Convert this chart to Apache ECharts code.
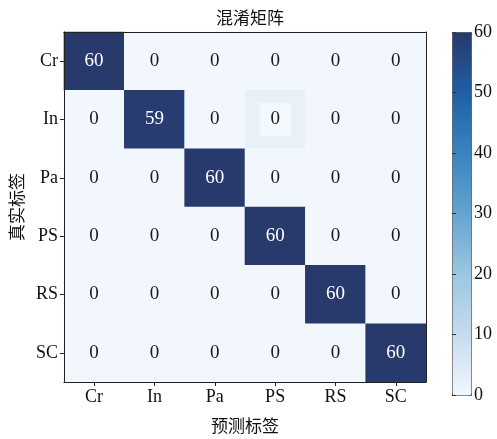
<!DOCTYPE html>
<html>
<head>
<meta charset="utf-8">
<script src="https://cdn.jsdelivr.net/npm/echarts@6/dist/echarts.min.js"></script>
<style>
  html, body { margin: 0; padding: 0; background: #fff; }
  #chart { width: 497px; height: 439px; }
</style>
</head>
<body>
<div id="chart"></div>
<script>
// Class labels (predicted along x, true along y)
const classes = ['Cr', 'In', 'Pa', 'PS', 'RS', 'SC'];

// Confusion matrix rows: true label; columns: predicted label
const rowCr = [60, 0, 0, 0, 0, 0];
const rowIn = [0, 59, 0, 0, 0, 0];
const rowPa = [0, 0, 60, 0, 0, 0];
const rowPS = [0, 0, 0, 60, 0, 0];
const rowRS = [0, 0, 0, 0, 60, 0];
const rowSC = [0, 0, 0, 0, 0, 60];
const matrix = [rowCr, rowIn, rowPa, rowPS, rowRS, rowSC];

// Colour bar ticks
const colorbarMin = 0;
const colorbarMax = 60;
const colorbarStep = 10;

// Cell with a faint shaded background (row In, column PS)
const shadedCell = [3, 1];

const LATIN = "'Liberation Serif', 'Times New Roman', serif";
const CJK = "'Noto Sans CJK SC', sans-serif";

const cells = [];
matrix.forEach((row, i) => {
  row.forEach((v, j) => {
    const item = {
      value: [j, i, v],
      label: { color: v > colorbarMax / 2 ? '#ffffff' : '#1a1a1a' }
    };
    if (j === shadedCell[0] && i === shadedCell[1]) {
      item.itemStyle = { color: '#e8f0f8' };
      item.label.backgroundColor = '#f3f8fd';
      item.label.padding = [7, 11, 7, 11];
    }
    cells.push(item);
  });
});

const chart = echarts.init(document.getElementById('chart'), null, { renderer: 'canvas' });

chart.setOption({
  animation: false,
  backgroundColor: '#ffffff',
  title: {
    text: '混淆矩阵',
    left: 245,
    textAlign: 'center',
    top: 4,
    textStyle: { fontFamily: CJK, fontSize: 17, fontWeight: 'normal', color: '#111' }
  },
  grid: [
    { left: 63, top: 32, width: 363, height: 363 },
    { left: 452, top: 32, width: 19, height: 363 }
  ],
  xAxis: [
    {
      type: 'category',
      gridIndex: 0,
      data: classes,
      z: 10,
      axisLine: { show: true, lineStyle: { color: '#222', width: 1 } },
      axisTick: { show: true, alignWithLabel: true, length: 4, lineStyle: { color: '#222' } },
      axisLabel: { fontFamily: LATIN, fontSize: 18, color: '#111', margin: 6 },
      splitLine: { show: false },
      name: '预测标签',
      nameLocation: 'middle',
      nameGap: 35,
      nameTextStyle: { fontFamily: CJK, fontSize: 17, color: '#111' }
    },
    {
      type: 'category',
      gridIndex: 0,
      data: classes,
      position: 'top',
      z: 10,
      axisLine: { show: true, lineStyle: { color: '#222', width: 1 } },
      axisTick: { show: false },
      axisLabel: { show: false }
    },
    {
      type: 'value',
      gridIndex: 1,
      show: false
    }
  ],
  yAxis: [
    {
      type: 'category',
      gridIndex: 0,
      data: classes,
      inverse: true,
      z: 10,
      axisLine: { show: true, lineStyle: { color: '#222', width: 1 } },
      axisTick: { show: true, alignWithLabel: true, length: 4, lineStyle: { color: '#222' } },
      axisLabel: { fontFamily: LATIN, fontSize: 18, color: '#111', margin: 6 },
      splitLine: { show: false },
      name: '真实标签',
      nameLocation: 'middle',
      nameGap: 36,
      nameTextStyle: { fontFamily: CJK, fontSize: 17, color: '#111' }
    },
    {
      type: 'category',
      gridIndex: 0,
      data: classes,
      inverse: true,
      position: 'right',
      z: 10,
      axisLine: { show: true, lineStyle: { color: '#222', width: 1 } },
      axisTick: { show: false },
      axisLabel: { show: false }
    },
    {
      type: 'value',
      gridIndex: 1,
      position: 'right',
      min: colorbarMin,
      max: colorbarMax,
      interval: colorbarStep,
      z: 10,
      axisLine: { show: false },
      axisTick: { show: true, length: 4, lineStyle: { color: '#333' } },
      axisLabel: { fontFamily: LATIN, fontSize: 18, color: '#111', margin: 3 },
      splitLine: { show: false }
    }
  ],
  visualMap: {
    type: 'continuous',
    min: colorbarMin,
    max: colorbarMax,
    calculable: false,
    hoverLink: false,
    orient: 'vertical',
    left: 452,
    top: 32,
    itemWidth: 19,
    itemHeight: 363,
    padding: 0,
    text: null,
    showLabel: false,
    borderWidth: 1,
    borderColor: '#444',
    seriesIndex: 0,
    inRange: {
      color: ['#f2f7fd', '#c6dbef', '#9cc7e1', '#64a5d0', '#3a84c0', '#1f5fa5', '#28396b']
    }
  },
  series: [
    {
      type: 'heatmap',
      xAxisIndex: 0,
      yAxisIndex: 0,
      data: cells,
      label: {
        show: true,
        fontFamily: LATIN,
        fontSize: 19,
        formatter: p => String(p.value[2])
      },
      itemStyle: { borderWidth: 0 },
      emphasis: { disabled: true }
    }
  ]
});
</script>
</body>
</html>
